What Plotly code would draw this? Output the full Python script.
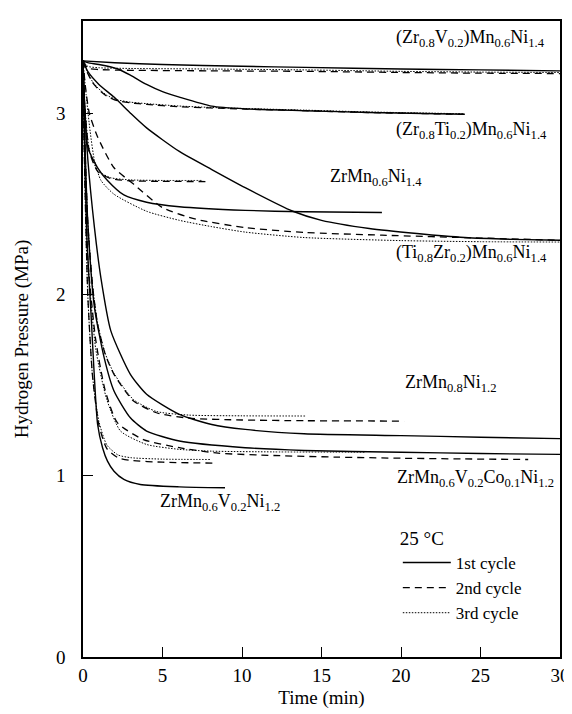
import plotly.graph_objects as go

# ---- data: time (min) / hydrogen pressure (MPa) ----
# (Zr0.8V0.2)Mn0.6Ni1.4
t_zv_1 = [0, 2, 5, 10, 14, 20, 25, 30]
p_zv_1 = [3.29, 3.28, 3.27, 3.26, 3.254, 3.245, 3.24, 3.235]
t_zv_2 = [0, 0.3, 1, 3, 8, 14, 20, 25, 30]
p_zv_2 = [3.29, 3.25, 3.242, 3.238, 3.235, 3.232, 3.226, 3.222, 3.22]
t_zv_3 = [0, 0.3, 1, 3, 8, 14, 20, 25, 30]
p_zv_3 = [3.29, 3.26, 3.252, 3.248, 3.245, 3.24, 3.232, 3.228, 3.226]

# (Zr0.8Ti0.2)Mn0.6Ni1.4
t_zt_1 = [0, 0.3, 1, 2.2, 3, 4, 5, 6.06, 8.1, 10.2, 13.9, 18, 24]
p_zt_1 = [3.29, 3.28, 3.27, 3.245, 3.21, 3.16, 3.12, 3.09, 3.04, 3.025, 3.015, 3.005, 2.995]
t_zt_2 = [0, 0.15, 0.3, 0.6, 1, 1.5, 2.16, 3, 4, 6, 8, 10.2, 14, 18, 24]
p_zt_2 = [3.29, 3.25, 3.22, 3.17, 3.13, 3.095, 3.07, 3.058, 3.05, 3.037, 3.03, 3.024, 3.015, 3.005, 2.995]
t_zt_3 = [0, 0.15, 0.3, 0.6, 1, 1.5, 2.16, 3, 4, 6, 8, 10.2, 14, 18, 24]
p_zt_3 = [3.29, 3.255, 3.225, 3.175, 3.135, 3.1, 3.075, 3.062, 3.054, 3.041, 3.033, 3.027, 3.018, 3.008, 2.998]

# ZrMn0.6Ni1.4
t_z14_1 = [0, 0.1, 0.31, 0.92, 1.54, 2.57, 4.0, 6.06, 10.2, 13.9, 18.8]
p_z14_1 = [3.29, 3.05, 2.81, 2.70, 2.63, 2.55, 2.51, 2.485, 2.465, 2.457, 2.453]
t_z14_2 = [0, 0.1, 0.4, 0.92, 1.75, 3, 5, 7.7]
p_z14_2 = [3.29, 3.05, 2.79, 2.68, 2.64, 2.628, 2.625, 2.624]
t_z14_3 = [0, 0.1, 0.4, 0.92, 1.75, 3, 5, 7.5]
p_z14_3 = [3.29, 3.06, 2.80, 2.685, 2.645, 2.633, 2.63, 2.63]

# (Ti0.8Zr0.2)Mn0.6Ni1.4
t_tz_1 = [0, 0.31, 1.0, 1.95, 3.0, 4.0, 6.06, 8.1, 10.2, 13.2, 15, 18, 21, 24, 27, 30]
p_tz_1 = [3.29, 3.23, 3.16, 3.09, 3.0, 2.92, 2.79, 2.69, 2.59, 2.46, 2.41, 2.365, 2.337, 2.315, 2.305, 2.30]
t_tz_2 = [0, 0.15, 0.4, 0.92, 1.95, 3.18, 5.0, 7.1, 10.2, 13.9, 18.8, 25, 30]
p_tz_2 = [3.29, 3.15, 3.0, 2.87, 2.70, 2.61, 2.48, 2.416, 2.37, 2.343, 2.328, 2.312, 2.30]
t_tz_3 = [0, 0.2, 0.45, 0.72, 1.13, 1.95, 4.0, 6.06, 8.1, 10.2, 13.9, 20, 25, 30]
p_tz_3 = [3.29, 3.1, 2.9, 2.74, 2.63, 2.554, 2.46, 2.41, 2.375, 2.345, 2.315, 2.298, 2.292, 2.29]

# ZrMn0.8Ni1.2
t_z12_1 = [0, 0.1, 0.3, 0.72, 1.13, 1.75, 2.98, 4.0, 6.06, 8.1, 10.2, 13.9, 20, 25, 30]
p_z12_1 = [3.29, 3.05, 2.75, 2.37, 2.09, 1.80, 1.56, 1.45, 1.339, 1.283, 1.256, 1.232, 1.222, 1.213, 1.205]
t_z12_2 = [0, 0.1, 0.3, 0.6, 0.92, 1.4, 1.95, 3.18, 4.62, 6.67, 10, 14, 20.2]
p_z12_2 = [3.29, 2.9, 2.4, 2.05, 1.836, 1.67, 1.56, 1.413, 1.348, 1.318, 1.308, 1.304, 1.302]
t_z12_3 = [0, 0.1, 0.3, 0.6, 0.92, 1.4, 1.95, 3.18, 4.62, 6.67, 10, 14]
p_z12_3 = [3.29, 2.9, 2.4, 2.05, 1.84, 1.675, 1.565, 1.42, 1.355, 1.335, 1.331, 1.33]

# ZrMn0.6V0.2Co0.1Ni1.2
t_zc_1 = [0, 0.1, 0.3, 0.72, 1.33, 1.95, 2.98, 4.0, 6.06, 10.2, 13.9, 20, 25, 30]
p_zc_1 = [3.29, 2.9, 2.4, 1.93, 1.652, 1.468, 1.32, 1.247, 1.192, 1.155, 1.14, 1.13, 1.123, 1.118]
t_zc_2 = [0, 0.1, 0.3, 0.8, 1.4, 2.16, 3.8, 6.06, 8.5, 12, 16, 20, 24, 28]
p_zc_2 = [3.29, 2.8, 2.2, 1.75, 1.47, 1.293, 1.20, 1.155, 1.125, 1.112, 1.103, 1.097, 1.093, 1.09]
t_zc_3 = [0, 0.1, 0.3, 0.8, 1.5, 2.36, 4.0, 6.06, 8.1, 12, 17.7]
p_zc_3 = [3.29, 2.8, 2.2, 1.7, 1.42, 1.247, 1.173, 1.146, 1.136, 1.132, 1.13]

# ZrMn0.6V0.2Ni1.2
t_v12_1 = [0, 0.1, 0.25, 0.5, 0.92, 1.23, 1.54, 1.95, 2.57, 3.6, 6.06, 8.93]
p_v12_1 = [3.29, 2.8, 2.3, 1.9, 1.283, 1.155, 1.081, 1.025, 0.98, 0.952, 0.939, 0.934]
t_v12_2 = [0, 0.1, 0.3, 0.6, 1.0, 1.5, 2.2, 3.0, 5, 8.3]
p_v12_2 = [3.29, 2.7, 2.0, 1.55, 1.28, 1.15, 1.1, 1.085, 1.075, 1.07]
t_v12_3 = [0, 0.1, 0.3, 0.6, 1.0, 1.5, 2.2, 3.0, 5, 8.0]
p_v12_3 = [3.29, 2.7, 2.0, 1.55, 1.3, 1.17, 1.115, 1.1, 1.092, 1.09]

cycle_names = ["1st cycle", "2nd cycle", "3rd cycle"]
x_ticks = [0, 5, 10, 15, 20, 25, 30]
y_ticks = [0, 1, 2, 3]

label_texts = [
    "(Zr<sub>0.8</sub>V<sub>0.2</sub>)Mn<sub>0.6</sub>Ni<sub>1.4</sub>",
    "(Zr<sub>0.8</sub>Ti<sub>0.2</sub>)Mn<sub>0.6</sub>Ni<sub>1.4</sub>",
    "ZrMn<sub>0.6</sub>Ni<sub>1.4</sub>",
    "(Ti<sub>0.8</sub>Zr<sub>0.2</sub>)Mn<sub>0.6</sub>Ni<sub>1.4</sub>",
    "ZrMn<sub>0.8</sub>Ni<sub>1.2</sub>",
    "ZrMn<sub>0.6</sub>V<sub>0.2</sub>Co<sub>0.1</sub>Ni<sub>1.2</sub>",
    "ZrMn<sub>0.6</sub>V<sub>0.2</sub>Ni<sub>1.2</sub>",
]

# ---- figure ----
series = [
    [(t_zv_1, p_zv_1), (t_zv_2, p_zv_2), (t_zv_3, p_zv_3)],
    [(t_zt_1, p_zt_1), (t_zt_2, p_zt_2), (t_zt_3, p_zt_3)],
    [(t_z14_1, p_z14_1), (t_z14_2, p_z14_2), (t_z14_3, p_z14_3)],
    [(t_tz_1, p_tz_1), (t_tz_2, p_tz_2), (t_tz_3, p_tz_3)],
    [(t_z12_1, p_z12_1), (t_z12_2, p_z12_2), (t_z12_3, p_z12_3)],
    [(t_zc_1, p_zc_1), (t_zc_2, p_zc_2), (t_zc_3, p_zc_3)],
    [(t_v12_1, p_v12_1), (t_v12_2, p_v12_2), (t_v12_3, p_v12_3)],
]

line_styles = [
    dict(color="black", width=1.4, dash="solid"),
    dict(color="black", width=1.3, dash="7px,5px"),
    dict(color="black", width=1.0, dash="1.5px,1.5px"),
]

FONT = "Liberation Serif, Times New Roman, serif"

fig = go.Figure()
for si, comp in enumerate(series):
    for ci, (tt, pp) in enumerate(comp):
        fig.add_trace(go.Scatter(
            x=tt, y=pp, mode="lines",
            line=dict(**line_styles[ci], shape="spline", smoothing=0.6),
            name=cycle_names[ci],
            legendgroup=cycle_names[ci],
            showlegend=(si == 0),
            legendrank=ci + 1,
            hoverinfo="skip",
        ))

# curve labels: (x, y, xanchor)
label_pos = [
    (29.2, 3.415, "right"),
    (29.3, 2.905, "right"),
    (15.4, 2.645, "left"),
    (29.3, 2.225, "right"),
    (20.1, 1.51, "left"),
    (29.75, 0.985, "right"),
    (4.74, 0.855, "left"),
]
for txt, (lx, ly, xa) in zip(label_texts, label_pos):
    fig.add_annotation(x=lx, y=ly, text=txt, showarrow=False,
                       xanchor=xa, yanchor="middle",
                       font=dict(family=FONT, size=18, color="black"))

axis_common = dict(
    showgrid=False, zeroline=False,
    showline=True, linecolor="black", linewidth=1.5, mirror=True,
    ticks="inside", ticklen=10, tickwidth=1.2, tickcolor="black",
    tickfont=dict(family=FONT, size=19, color="black"),
)

fig.update_layout(
    width=572, height=714,
    margin=dict(l=75, r=10, t=13, b=65),
    paper_bgcolor="white", plot_bgcolor="white",
    font=dict(family=FONT, color="black"),
    xaxis=dict(range=[0, 30], tickvals=x_ticks, ticklabelstandoff=0,
               title=dict(text="Time (min)", font=dict(family=FONT, size=19), standoff=6),
               **axis_common),
    yaxis=dict(range=[0, 3.51], tickvals=y_ticks, ticklabelstandoff=12,
               title=dict(text="Hydrogen Pressure (MPa)", font=dict(family=FONT, size=19), standoff=22),
               **axis_common),
    showlegend=True,
    legend=dict(
        x=0.66, y=0.215, xanchor="left", yanchor="top",
        bgcolor="rgba(0,0,0,0)", borderwidth=0,
        font=dict(family=FONT, size=17, color="black"),
        title=dict(text="25 °C", font=dict(family=FONT, size=19)),
        traceorder="normal",
        itemwidth=48,
        tracegroupgap=0,
    ),
)

fig.write_html("out.html")
